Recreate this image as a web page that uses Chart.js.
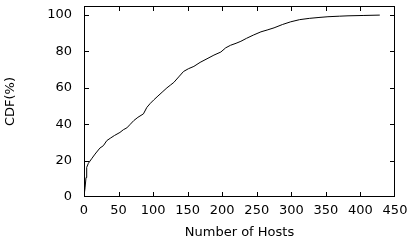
<!DOCTYPE html>
<html>
<head>
<meta charset="utf-8">
<script src="https://cdn.jsdelivr.net/npm/chart.js@4/dist/chart.umd.min.js"></script>
<style>
html,body{margin:0;padding:0;background:#fff;overflow:hidden;}
#wrap{width:411px;height:240px;}
</style>
</head>
<body>
<div id="wrap"><canvas id="c" width="411" height="240"></canvas></div>
<script>
const hosts = [0,0.5,1.5,2.9,3.9,6.3,11,16,23,28,33,38,44,52,57,62,67,72,78,86,91,96,101,107,113,120,125,130,137,144,151,159,168,178,188,198,205,212,220,227,235,245,256,265,275,287,299,312,326,340,353,370,382,405,428];
const cdf   = [0,2,5,10.7,16.3,18.5,21,23.6,26.9,28.2,31,32.3,33.8,35.5,37,38,40,42,43.8,45.7,49.3,51.5,53.4,55.5,57.6,60,61.5,63,66,69,70.5,71.8,74,76,78,79.7,82,83.4,84.5,85.6,87.2,89,90.8,91.8,93,94.8,96.3,97.5,98.2,98.7,99.1,99.4,99.6,99.8,100];
const xTicks = [0,50,100,150,200,250,300,350,400,450];
const yTicks = [0,20,40,60,80,100];

const FONT = {family:'"DejaVu Sans", sans-serif', size:13};

const boxTicks = {
  id:'boxTicks',
  afterDraw(chart){
    const {ctx, chartArea:a, scales} = chart;
    ctx.save();
    ctx.fillStyle = '#000';
    const L = Math.round(a.left), R = Math.round(a.right), T = Math.round(a.top), B = Math.round(a.bottom);
    ctx.fillRect(L, T, R-L, 1);
    ctx.fillRect(L, B-1, R-L, 1);
    ctx.fillRect(L, T, 1, B-T);
    ctx.fillRect(R-1, T, 1, B-T);
    const len = 4;
    scales.x.ticks.forEach(t=>{
      const px = Math.round(scales.x.getPixelForValue(t.value));
      const cx = Math.min(Math.max(px, L), R-1);
      ctx.fillRect(cx, B-1-len, 1, len);
      ctx.fillRect(cx, T+1, 1, len);
    });
    scales.y.ticks.forEach(t=>{
      const py = Math.round(scales.y.getPixelForValue(t.value));
      const cy = Math.min(Math.max(py, T), B-1);
      ctx.fillRect(L+1, cy, len, 1);
      ctx.fillRect(R-1-len, cy, len, 1);
    });
    ctx.restore();
  }
};

new Chart(document.getElementById('c'), {
  type:'line',
  data:{
    datasets:[{
      data: hosts.map((x,i)=>({x:x, y:cdf[i]})),
      borderColor:'#000',
      borderWidth:1,
      pointRadius:0,
      tension:0,
      fill:false
    }]
  },
  options:{
    responsive:false,
    animation:false,
    devicePixelRatio:1,
    layout:{padding:{left:0,right:16,top:6,bottom:0}},
    plugins:{legend:{display:false}, tooltip:{enabled:false}},
    scales:{
      x:{
        type:'linear', min:0, max:450,
        afterBuildTicks(s){ s.ticks = xTicks.map(v=>({value:v})); },
        afterFit(s){ s.height = 43; s.paddingLeft = 0; s.paddingRight = 0; },
        grid:{display:false, drawTicks:false},
        border:{display:false},
        ticks:{color:'#000', font:FONT, padding:6, maxRotation:0, autoSkip:false},
        title:{display:true, text:'Number of Hosts', color:'#000', font:FONT, padding:{top:0,bottom:0}}
      },
      y:{
        type:'linear', min:0, max:105,
        afterBuildTicks(s){ s.ticks = yTicks.map(v=>({value:v})); },
        afterFit(s){ s.width = 84; s.paddingTop = 0; s.paddingBottom = 0; },
        grid:{display:false, drawTicks:false},
        border:{display:false},
        ticks:{color:'#000', font:FONT, padding:12, autoSkip:false},
        title:{display:true, text:'CDF(%)', color:'#000', font:FONT, padding:{top:3,bottom:0}}
      }
    }
  },
  plugins:[boxTicks]
});
</script>
</body>
</html>
